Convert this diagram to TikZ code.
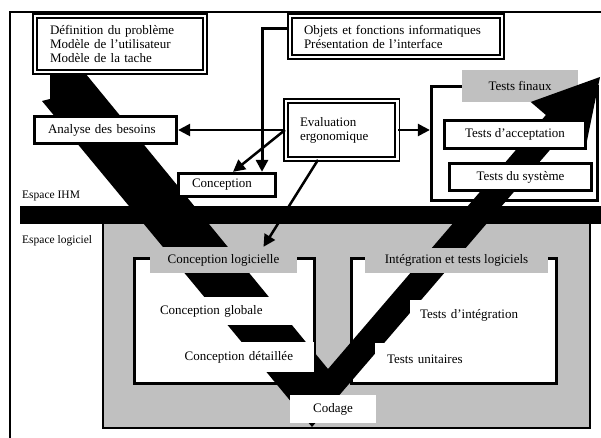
\documentclass[tikz,border=0pt]{standalone}
\usepackage{fontspec}
\setmainfont{Liberation Serif}
\usetikzlibrary{arrows.meta, calc}
\definecolor{zonegray}{RGB}{192, 192, 192}
\tikzset{
  every node/.style={font=\fontsize{13}{14}\selectfont},
  dblbox/.style={draw, double=white, double distance=2.6pt, line width=1.7pt, fill=white, inner sep=0pt},
  thickbox/.style={draw, line width=2.8pt, fill=white, inner sep=0pt},
  graylabel/.style={fill=zonegray, inner sep=0pt},
  whitestep/.style={fill=white, inner sep=0pt},
  flow/.style={line width=2.5pt, -{Triangle[length=12pt, width=12pt]}},
  spacelabel/.style={font=\fontsize{11.5}{13}\selectfont, anchor=west, inner sep=0pt}
}

\begin{document}
\begin{tikzpicture}[x=1pt, y=-1pt]
  \useasboundingbox (0,0) rectangle (601,438);

  % Frame
  \draw[line width=2pt] (601,12) -- (10,12) -- (10,438);

  % Software zone
  \node[fill=zonegray, draw, line width=1.8pt, minimum width=487pt, minimum height=206pt, inner sep=0pt] (zone) at (346.5,325) {};
  \node[thickbox, minimum width=180.5pt, minimum height=125.5pt] (leftbox) at (224.5,321) {};
  \node[thickbox, minimum width=205.5pt, minimum height=125.5pt] (rightbox) at (454,321) {};

  % Final tests box
  \node[thickbox, minimum width=166.5pt, minimum height=114.5pt] (tests) at (514.5,143.5) {};
  \node[graylabel, minimum width=116pt, minimum height=32pt] (finaux) at (520,86) {Tests finaux};

  % The V
  \fill (50,75) -- (50,99) -- (42,101) -- (312,427) -- (565.4,131.9) -- (585.3,149)
    -- (600,77) -- (530.7,102) -- (545.9,115) -- (328,369) -- (86.7,75) -- cycle;

  % Separation IHM / logiciel
  \fill (20,206) rectangle (601,224);

  % Software labels and steps
  \node[graylabel, minimum width=147pt, minimum height=26pt] (conclog) at (223.5,260) {Conception logicielle};
  \node[graylabel, minimum width=183pt, minimum height=25pt] (integ) at (456.5,260.5) {Intégration et tests logiciels};
  \node[whitestep, minimum height=28pt, text width=120pt, inner xsep=20pt, align=left] (globale) at (220,311) {Conception globale};
  \node[whitestep, minimum height=30pt, text width=132pt, inner xsep=21pt, align=right] (detail) at (227,357) {Conception détaillée};
  \node[whitestep, minimum height=30pt, text width=125pt, inner xsep=10pt, align=left] (inttest) at (482.5,315) {Tests d’intégration};
  \node[whitestep, minimum height=32pt, text width=156pt, inner xsep=12pt, align=left] (unit) at (465,359) {Tests unitaires};
  \node[whitestep, minimum width=86pt, minimum height=28pt] (codage) at (333,409) {Codage};

  % IHM boxes
  \node[dblbox, minimum height=56pt, text width=140pt, inner xsep=15pt, align=left] (defn) at (120,44) {Définition du problème\\Modèle de l’utilisateur\\Modèle de la tache};
  \node[dblbox, minimum height=41pt, text width=184pt, inner xsep=14pt, align=left] (objets) at (396,36.5) {Objets et fonctions informatiques\\Présentation de l’interface};
  \node[dblbox, minimum height=58pt, text width=83pt, inner xsep=14.2pt, align=left] (eval) at (341.5,130) {Evaluation\\ergonomique\\[3pt]};
  \node[thickbox, minimum height=27.5pt, text width=115pt, inner xsep=13.75pt, align=left] (analyse) at (105.5,130) {Analyse des besoins};
  \node[thickbox, minimum height=23.5pt, text width=70pt, inner xsep=13.75pt, align=left] (concep) at (227,185) {Conception};
  \node[thickbox, minimum width=141.5pt, minimum height=28.5pt] (accept) at (515,134.5) {Tests d’acceptation};
  \node[thickbox, minimum width=142.5pt, minimum height=27.5pt] (systeme) at (520.5,177) {Tests du système};

  % Spaces
  \node[spacelabel] (ihm) at (22,196) {Espace IHM};
  \node[spacelabel] (logiciel) at (22,241) {Espace logiciel};

  % Arrows
  \draw[flow, line width=3pt] ([yshift=7.5pt]objets.west) -| ([xshift=35pt]concep.north);
  \draw[flow] (eval.west) -- (analyse.east);
  \draw[flow] (eval.east) -- (eval.east -| tests.west);
  \draw[flow] (eval.west) -- ([xshift=6pt]concep.north);
  \draw[flow] ([xshift=-23.5pt]eval.south) -- ([xshift=40pt]conclog.north);
\end{tikzpicture}
\end{document}
